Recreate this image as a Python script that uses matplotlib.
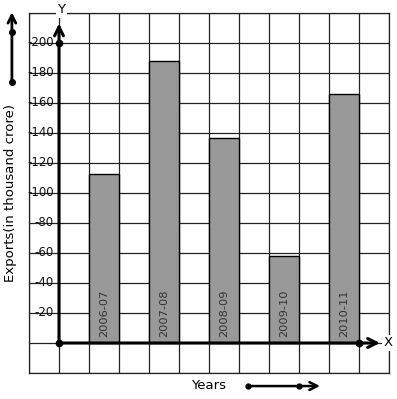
import numpy as np
import matplotlib.pyplot as plt

# data
years = ['2006-07', '2007-08', '2008-09', '2009-10', '2010-11']
exports = [113, 188, 137, 58, 166]
bar_pos = [1, 3, 5, 7, 9]  # grid columns (Y axis at column 0)
y_ticks = [20, 40, 60, 80, 100, 120, 140, 160, 180, 200]

W, H = 397, 399
fig = plt.figure(figsize=(W / 100, H / 100), dpi=100)
# grid box: x 29..389 px, y 13..373 px
ax = fig.add_axes([29 / W, (H - 373) / H, 360 / W, 360 / H])
ax.set_xlim(-1, 11)
ax.set_ylim(-20, 220)

# square grid paper
ax.set_xticks(np.arange(-1, 12, 1))
ax.set_yticks(np.arange(-20, 221, 20))
ax.grid(True, color='#222222', linewidth=0.9)
ax.tick_params(length=0, labelbottom=False, labelleft=False)
for s in ax.spines.values():
    s.set_color('#222222')
    s.set_linewidth(0.9)
ax.set_axisbelow(True)

# bars
ax.bar(bar_pos, exports, width=1, align='edge', color='#999999',
       edgecolor='black', linewidth=1, zorder=3)
for x, lab in zip(bar_pos, years):
    ax.text(x + 0.5, 4, lab, rotation=90, ha='center', va='bottom',
            fontsize=8.2, color='#333333', zorder=4)

# y tick labels, drawn inside the first column
for v in y_ticks:
    ax.text(-0.17, v, '-' + str(v), ha='right', va='center', fontsize=8.5,
            color='#111111', zorder=4)

# coordinate axes with arrows
ax.annotate('', xy=(0, 213), xytext=(0, 0),
            arrowprops=dict(arrowstyle='->', lw=2.2, color='black',
                            mutation_scale=16, shrinkA=0, shrinkB=0), zorder=5)
ax.annotate('', xy=(10.7, 0), xytext=(0, 0),
            arrowprops=dict(arrowstyle='->', lw=2.2, color='black',
                            mutation_scale=16, shrinkA=0, shrinkB=0), zorder=5)
ax.plot([0, 0, 10], [0, 200, 0], 'o', color='black', markersize=4.5, zorder=6)

ax.text(0.07, 222.2, 'Y', ha='center', va='center', fontsize=9.5, zorder=6,
        clip_on=False, bbox=dict(facecolor='white', edgecolor='none', pad=1))
ax.text(10.97, 0, 'X', ha='center', va='center', fontsize=9.5, zorder=6,
        clip_on=False, bbox=dict(facecolor='white', edgecolor='none', pad=1))

# axis titles with decorative arrows
ax.text(-1.6, 100, 'Exports(in thousand crore)', rotation=90, ha='center',
        va='center', fontsize=9.5, clip_on=False)
ax.annotate('', xy=(-1.57, 220.5), xytext=(-1.57, 174), annotation_clip=False,
            arrowprops=dict(arrowstyle='->', lw=2, color='black',
                            mutation_scale=14, shrinkA=0, shrinkB=0))
ax.plot([-1.57, -1.57], [174, 207.5], 'o', color='black', markersize=4,
        clip_on=False)

ax.text(5.0, -28.2, 'Years', ha='center', va='center', fontsize=9.5,
        clip_on=False)
ax.annotate('', xy=(8.7, -28.7), xytext=(6.3, -28.7), annotation_clip=False,
            arrowprops=dict(arrowstyle='->', lw=1.8, color='black',
                            mutation_scale=14, shrinkA=0, shrinkB=0))
ax.plot([6.3, 8.0], [-28.7, -28.7], 'o', color='black', markersize=3.5,
        clip_on=False)

fig.savefig('out.png', dpi=100)
